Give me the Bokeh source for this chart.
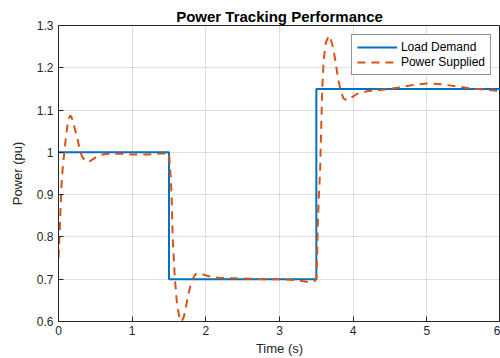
from bokeh.plotting import figure
from bokeh.models import FixedTicker, Legend, LegendItem, Range1d
from bokeh.embed import file_html
from bokeh.resources import INLINE

# ---- data ----
demand_t = [0, 1.5, 3.5, 6]
demand_p = [1.0, 0.7, 1.15, 1.15]

supplied_t = [0, 0.02, 0.04, 0.06, 0.08, 0.10, 0.12, 0.14, 0.16, 0.18, 0.20, 0.23,
              0.26, 0.29, 0.32, 0.36, 0.41, 0.46, 0.52, 0.60, 0.70, 0.80, 0.90, 1.00,
              1.10, 1.20, 1.30, 1.40, 1.50, 1.52, 1.535, 1.55, 1.58, 1.61, 1.64, 1.67,
              1.70, 1.73, 1.77, 1.81, 1.86, 1.90, 1.95, 2.00, 2.10, 2.20, 2.40, 2.60,
              2.80, 3.00, 3.15, 3.30, 3.40, 3.47, 3.50, 3.51, 3.52, 3.535, 3.55, 3.565,
              3.58, 3.60, 3.63, 3.67, 3.70, 3.73, 3.76, 3.79, 3.83, 3.87, 3.92, 3.98,
              4.05, 4.20, 4.40, 4.60, 4.80, 5.00, 5.20, 5.40, 5.60, 5.80, 6.00]
supplied_p = [0.75, 0.83, 0.92, 0.97, 1.00, 1.035, 1.062, 1.08, 1.087, 1.082, 1.07, 1.05,
              1.03, 1.005, 0.99, 0.98, 0.977, 0.983, 0.99, 0.995, 0.997, 0.997, 0.996, 0.995,
              0.995, 0.995, 0.996, 0.997, 0.998, 0.95, 0.90, 0.80, 0.70, 0.64, 0.61, 0.60,
              0.61, 0.635, 0.67, 0.697, 0.712, 0.714, 0.712, 0.709, 0.705, 0.703, 0.702, 0.701,
              0.700, 0.700, 0.699, 0.696, 0.693, 0.695, 0.70, 0.75, 0.83, 0.90, 0.95, 1.05,
              1.15, 1.22, 1.26, 1.276, 1.265, 1.245, 1.215, 1.18, 1.145, 1.127, 1.123, 1.13,
              1.138, 1.145, 1.148, 1.153, 1.159, 1.163, 1.161, 1.156, 1.151, 1.148, 1.145]

x_ticks = [0, 1, 2, 3, 4, 5, 6]
x_tick_labels = ["0", "1", "2", "3", "4", "5", "6"]
y_ticks = [0.6, 0.7, 0.8, 0.9, 1.0, 1.1, 1.2, 1.3]
y_tick_labels = ["0.6", "0.7", "0.8", "0.9", "1", "1.1", "1.2", "1.3"]

title_text = "Power Tracking Performance"
x_label = "Time (s)"
y_label = "Power (pu)"
series_names = ["Load Demand", "Power Supplied"]

AX = "#262626"
FONT = "Liberation Sans"

p = figure(width=500, height=358, output_backend="svg", toolbar_location=None,
           x_range=Range1d(0, 6), y_range=Range1d(0.6, 1.3),
           min_border_left=58, min_border_right=0, min_border_top=25, min_border_bottom=36)
p.background_fill_color = "white"
p.border_fill_color = "white"
p.outline_line_color = AX
p.outline_line_width = 1

p.title.text = title_text
p.title.text_font = FONT
p.title.text_font_size = "15px"
p.title.text_font_style = "bold"
p.title.text_color = "black"
p.title.align = "center"
p.title.offset = 0
p.title.standoff = 2

l1 = p.step(demand_t, demand_p, mode="after", line_color="#0072BD", line_width=2)
l2 = p.line(supplied_t, supplied_p, line_color="#D95319", line_width=2, line_dash="8 6")

for ax, ticks, labels in ((p.xaxis[0], x_ticks, x_tick_labels), (p.yaxis[0], y_ticks, y_tick_labels)):
    ax.ticker = FixedTicker(ticks=ticks)
    ax.major_label_overrides = {t: s for t, s in zip(ticks, labels)}
    ax.major_tick_in = 5
    ax.major_tick_out = 0
    ax.minor_tick_in = 0
    ax.minor_tick_out = 0
    ax.axis_line_color = AX
    ax.major_tick_line_color = AX
    ax.major_label_text_font = FONT
    ax.major_label_text_font_size = "12px"
    ax.major_label_text_color = AX
    ax.axis_label_text_font = FONT
    ax.axis_label_text_font_size = "13px"
    ax.axis_label_text_font_style = "normal"
    ax.axis_label_text_color = AX

p.xaxis.axis_label = x_label
p.yaxis.axis_label = y_label
p.xaxis.major_label_standoff = 4
p.xaxis.axis_label_standoff = 3
p.yaxis.major_label_standoff = 5
p.yaxis.axis_label_standoff = 9

p.xgrid.ticker = FixedTicker(ticks=x_ticks)
p.ygrid.ticker = FixedTicker(ticks=y_ticks)
for g in (p.xgrid[0], p.ygrid[0]):
    g.grid_line_color = AX
    g.grid_line_alpha = 0.15
    g.grid_line_width = 1

legend = Legend(items=[LegendItem(label=series_names[0], renderers=[l1]),
                       LegendItem(label=series_names[1], renderers=[l2])],
                location="top_right")
legend.margin = 9
legend.padding = 5
legend.spacing = 1
legend.glyph_width = 40
legend.glyph_height = 12
legend.label_height = 12
legend.label_standoff = 4
legend.label_text_font = FONT
legend.label_text_font_size = "12px"
legend.label_text_color = "black"
legend.border_line_color = AX
legend.border_line_width = 1
legend.background_fill_color = "white"
legend.background_fill_alpha = 1
p.add_layout(legend)

open("out.html", "w").write(file_html(p, INLINE))
